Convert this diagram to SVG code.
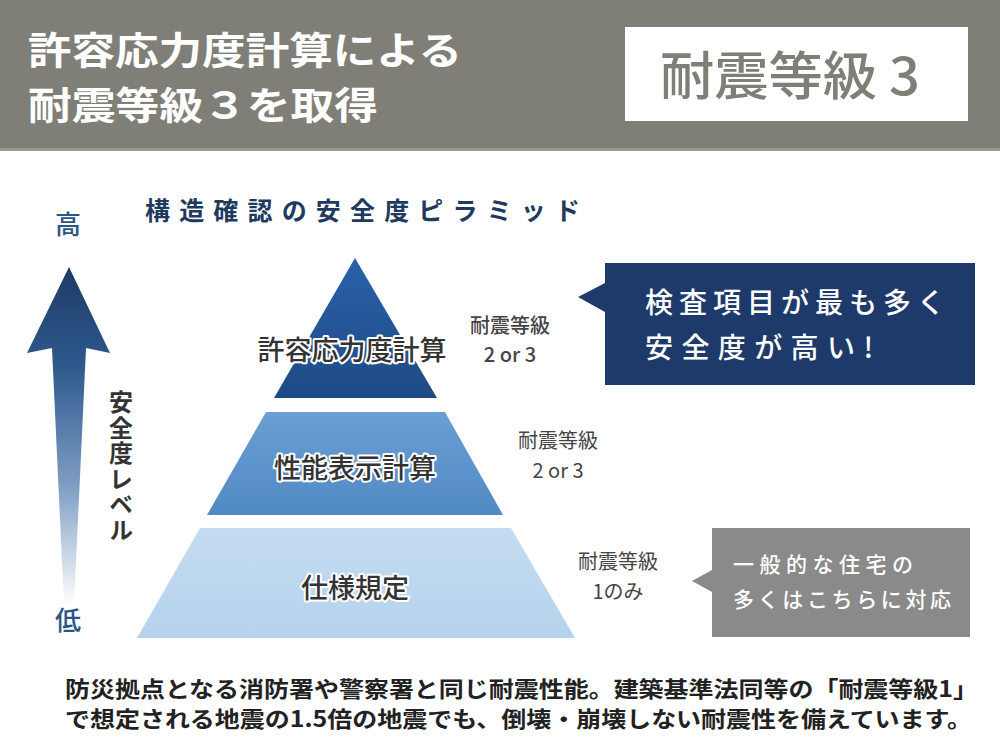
<svg xmlns="http://www.w3.org/2000/svg" width="1000" height="750" viewBox="0 0 1000 750">
<defs>
<style>
.jp{font-family:"Noto Sans CJK JP","Noto Sans",sans-serif;}
.hdr{fill:#ffffff;font-weight:700;font-size:38px;}
.lvl{fill:#444444;font-size:20px;text-anchor:middle;}
.tier{fill:#333333;font-size:27px;font-weight:500;text-anchor:middle;stroke:#ffffff;stroke-width:4px;paint-order:stroke;stroke-linejoin:round;}
.call{fill:#ffffff;font-weight:500;}
.foot{fill:#222222;font-size:22px;font-weight:700;}
</style>
<linearGradient id="arrowGrad" x1="0" y1="266" x2="0" y2="605" gradientUnits="userSpaceOnUse">
<stop offset="0" stop-color="#1c3a66"/>
<stop offset="0.3" stop-color="#2f5a8e"/>
<stop offset="0.65" stop-color="#7f9ec4"/>
<stop offset="1" stop-color="#ffffff"/>
</linearGradient>
<linearGradient id="topGrad" x1="0" y1="0" x2="0" y2="1">
<stop offset="0" stop-color="#2a62a8"/>
<stop offset="1" stop-color="#1d4a86"/>
</linearGradient>
<linearGradient id="midGrad" x1="0" y1="0" x2="0" y2="1">
<stop offset="0" stop-color="#6b9fd4"/>
<stop offset="1" stop-color="#5089c4"/>
</linearGradient>
<linearGradient id="botGrad" x1="0" y1="0" x2="0" y2="1">
<stop offset="0" stop-color="#c4dcf1"/>
<stop offset="1" stop-color="#b5d2ec"/>
</linearGradient>
</defs>
<rect x="0" y="0" width="1000" height="750" fill="#ffffff"/>

<g id="header">
<rect x="0" y="0" width="1000" height="149" fill="#7f7f78"/>
<rect x="0" y="148" width="1000" height="3" fill="#9a9a94"/>
<text class="jp hdr" x="28" y="64" textLength="434" lengthAdjust="spacingAndGlyphs">許容応力度計算による</text>
<text class="jp hdr" x="28" y="119" textLength="350" lengthAdjust="spacingAndGlyphs">耐震等級３を取得</text>
</g>

<g id="grade-box">
<rect x="625" y="27" width="343" height="94" fill="#ffffff"/>
<text class="jp" x="660" y="95" font-size="52" font-weight="500" fill="#7f7f78" textLength="260" lengthAdjust="spacingAndGlyphs">耐震等級 3</text>
</g>

<g id="pyramid-title">
<text class="jp" x="145" y="220" font-size="25" font-weight="700" fill="#1f3a5f" textLength="435" lengthAdjust="spacing">構造確認の安全度ピラミッド</text>
</g>

<g id="safety-axis">
<text class="jp" x="68" y="234" font-size="26" font-weight="500" fill="#2a5685" text-anchor="middle">高</text>
<path d="M69,267 L110,353 L86,348 L74,605 L64,605 L52,348 L27,353 Z" fill="url(#arrowGrad)"/>
<text class="jp" x="68" y="630" font-size="26" font-weight="500" fill="#2a5685" text-anchor="middle">低</text>
<text class="jp" x="121" y="390" font-size="24" font-weight="700" fill="#333333" style="writing-mode:vertical-rl;letter-spacing:1.5px">安全度レベル</text>
</g>

<g id="tier-top">
<path d="M355,258 L437,398 L274,398 Z" fill="url(#topGrad)"/>
<text class="jp tier" x="352" y="360">許容応力度計算</text>
</g>

<g id="tier-middle">
<path d="M266,412 L445,412 L503,515 L207,515 Z" fill="url(#midGrad)"/>
<text class="jp tier" x="355" y="478">性能表示計算</text>
</g>

<g id="tier-bottom">
<path d="M200,528 L511,528 L575,638 L137,638 Z" fill="url(#botGrad)"/>
<text class="jp tier" x="355" y="598">仕様規定</text>
</g>

<g id="grade-top">
<text class="jp lvl" x="510" y="333" fill="#2b4a72" font-weight="500">耐震等級</text>
<text class="jp lvl" x="510" y="362" fill="#2b4a72" font-weight="500">2 or 3</text>
</g>
<g id="grade-mid">
<text class="jp lvl" x="558" y="448" fill="#555555">耐震等級</text>
<text class="jp lvl" x="558" y="478" fill="#555555">2 or 3</text>
</g>
<g id="grade-bot">
<text class="jp lvl" x="618" y="569" fill="#555555">耐震等級</text>
<text class="jp lvl" x="618" y="599" fill="#555555">1のみ</text>
</g>

<g id="callout-navy">
<path d="M605,263 L975,263 L975,385 L605,385 L605,312 L578,297 L605,283 Z" fill="#1e3a6a"/>
<text class="jp call" x="645" y="313" font-size="28" textLength="300" lengthAdjust="spacing">検査項目が最も多く</text>
<text class="jp call" x="645" y="358" font-size="28" textLength="228" lengthAdjust="spacing">安全度が高い!</text>
</g>

<g id="callout-gray">
<path d="M712,528 L970,528 L970,637 L712,637 L712,592 L692,581 L712,570 Z" fill="#8a8a8a"/>
<text class="jp call" x="733" y="572" font-size="21" font-weight="400" textLength="180" lengthAdjust="spacing">一般的な住宅の</text>
<text class="jp call" x="733" y="607" font-size="21" font-weight="400" textLength="218" lengthAdjust="spacing">多くはこちらに対応</text>
</g>

<g id="footer">
<text class="jp foot" x="65" y="697" textLength="913" lengthAdjust="spacingAndGlyphs">防災拠点となる消防署や警察署と同じ耐震性能。建築基準法同等の「耐震等級1」</text>
<text class="jp foot" x="65" y="727" textLength="907" lengthAdjust="spacingAndGlyphs">で想定される地震の1.5倍の地震でも、倒壊・崩壊しない耐震性を備えています。</text>
</g>
</svg>
